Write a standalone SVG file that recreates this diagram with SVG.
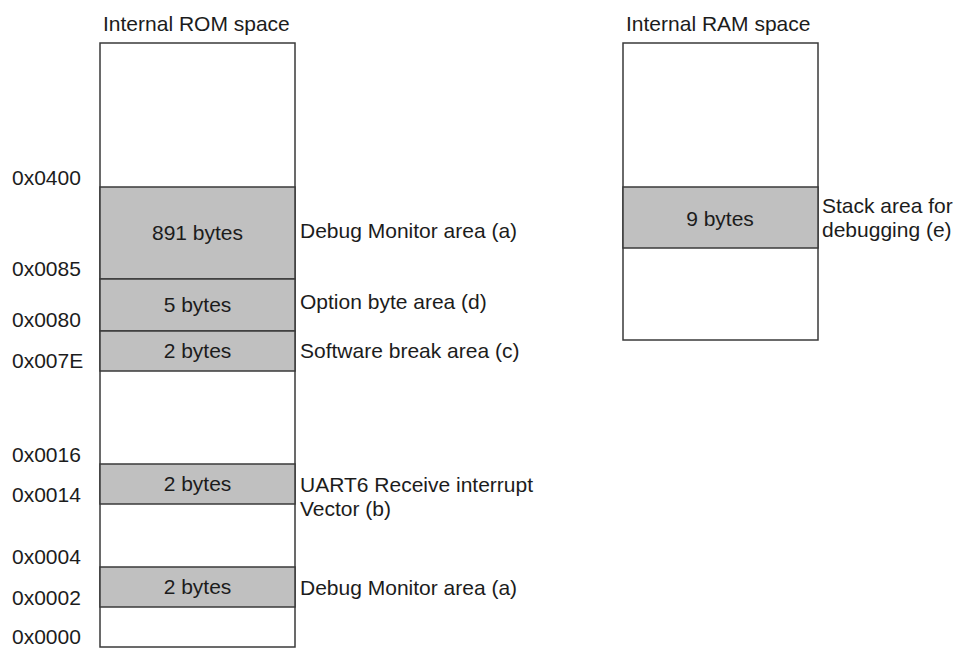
<svg xmlns="http://www.w3.org/2000/svg" width="958" height="648" viewBox="0 0 958 648">
  <style>
    text { font-family: "Liberation Sans", Arial, sans-serif; font-size: 21px; fill: #1c1c1c; }
    .mid { text-anchor: middle; }
    .box { fill: #ffffff; stroke: #3a3a3a; stroke-width: 1.5; }
    .area { fill: #c0c0c0; stroke: #3a3a3a; stroke-width: 1.5; }
  </style>
  <rect width="958" height="648" fill="#ffffff"/>

  <!-- ROM memory map -->
  <g id="rom">
    <text x="103" y="31">Internal ROM space</text>
    <rect class="box" x="100" y="43" width="195" height="604"/>
    <g id="rom-debug-monitor-high">
      <rect class="area" x="100" y="187" width="195" height="92"/>
      <text class="mid" x="197.5" y="240">891 bytes</text>
      <text x="300" y="238">Debug Monitor area (a)</text>
    </g>
    <g id="rom-option-byte">
      <rect class="area" x="100" y="279" width="195" height="52"/>
      <text class="mid" x="197.5" y="312">5 bytes</text>
      <text x="300" y="309">Option byte area (d)</text>
    </g>
    <g id="rom-software-break">
      <rect class="area" x="100" y="331" width="195" height="40"/>
      <text class="mid" x="197.5" y="358">2 bytes</text>
      <text x="300" y="358">Software break area (c)</text>
    </g>
    <g id="rom-uart6-vector">
      <rect class="area" x="100" y="464" width="195" height="40"/>
      <text class="mid" x="197.5" y="491">2 bytes</text>
      <text x="300" y="492">UART6 Receive interrupt</text>
      <text x="300" y="516">Vector (b)</text>
    </g>
    <g id="rom-debug-monitor-low">
      <rect class="area" x="100" y="567" width="195" height="40"/>
      <text class="mid" x="197.5" y="594">2 bytes</text>
      <text x="300" y="595">Debug Monitor area (a)</text>
    </g>
    <g id="rom-addresses">
      <text x="12" y="185">0x0400</text>
      <text x="12" y="276">0x0085</text>
      <text x="12" y="327">0x0080</text>
      <text x="12" y="368">0x007E</text>
      <text x="12" y="462">0x0016</text>
      <text x="12" y="502">0x0014</text>
      <text x="12" y="564">0x0004</text>
      <text x="12" y="605">0x0002</text>
      <text x="12" y="644">0x0000</text>
    </g>
  </g>

  <!-- RAM memory map -->
  <g id="ram">
    <text x="626" y="31">Internal RAM space</text>
    <rect class="box" x="623" y="43" width="195" height="297"/>
    <g id="ram-stack">
      <rect class="area" x="623" y="187" width="195" height="61"/>
      <text class="mid" x="720" y="226">9 bytes</text>
      <text x="822" y="213">Stack area for</text>
      <text x="822" y="237">debugging (e)</text>
    </g>
  </g>

  <g id="connectors"/>
</svg>
